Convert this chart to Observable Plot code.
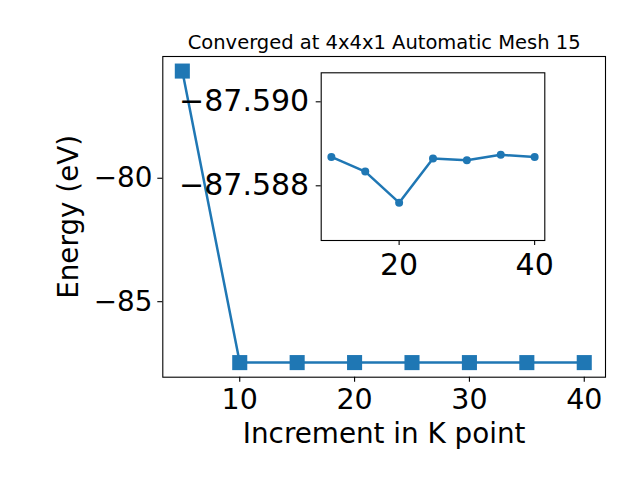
<!DOCTYPE html>
<html><head><meta charset="utf-8">
<script src="https://cdn.jsdelivr.net/npm/d3@7"></script>
<script src="https://cdn.jsdelivr.net/npm/@observablehq/plot@0.6"></script>
<style>
body{margin:0;background:white}
#wrap{position:relative;width:640px;height:480px}
#wrap svg{position:absolute;left:0;top:0}
</style>
</head><body><div id="wrap"></div>
<script>
const kpoints = [5, 10, 15, 20, 25, 30, 35, 40];
const energy = [-75.78, -87.58864, -87.58829, -87.58755, -87.58860, -87.58856, -87.58869, -87.58864];
const mainXTicks = [10, 20, 30, 40];
const mainYTicks = [-85, -80];
const insetXTicks = [20, 40];
const insetYTicks = [-87.590, -87.588];
const titleText = "Converged at 4x4x1 Automatic Mesh 15";
const xLabel = "Increment in K point";
const yLabel = "Energy (eV)";

const data = kpoints.map((k, i) => ({k, e: energy[i]}));
const insetData = data.slice(1);
const blue = "#1f77b4";
const minus = s => String(s).replace("-", "\u2212");
const FONT = "DejaVu Sans";

const main = Plot.plot({
  width: 640, height: 480,
  marginLeft: 162.3, marginRight: 35, marginTop: 56, marginBottom: 103.3,
  style: {fontFamily: FONT, background: "white", overflow: "visible", color: "black"},
  x: {domain: [3.3, 41.85]},
  y: {domain: [-88.18, -75.19]},
  marks: [
    Plot.frame({stroke: "black", strokeWidth: 1.1}),
    Plot.axisX({ticks: mainXTicks, tickSize: 5, tickPadding: 6.3, strokeWidth: 1.1, fontSize: 28.5, tickFormat: d => minus(d), label: null}),
    Plot.axisY({ticks: mainYTicks, tickSize: 5, tickPadding: 5.3, strokeWidth: 1.1, fontSize: 27.8, dy: 3, tickFormat: d => minus(d), label: null}),
    Plot.line(data, {x: "k", y: "e", stroke: blue, strokeWidth: 2.5}),
    Plot.dot(data, {x: "k", y: "e", symbol: "square", r: 8.5, fill: blue, stroke: "none"}),
    Plot.text([xLabel], {text: d => d, frameAnchor: "bottom", lineAnchor: "top", dy: 46, fontSize: 27.8, fill: "black"}),
    Plot.text([yLabel], {text: d => d, frameAnchor: "left", textAnchor: "middle", lineAnchor: "top", rotate: -90, dx: -105, fontSize: 27.8, fill: "black"}),
    Plot.text([titleText], {text: d => d, frameAnchor: "top", lineAnchor: "top", dy: -21, fontSize: 19.5, fill: "black"})
  ]
});

const inset = Plot.plot({
  width: 640, height: 480,
  marginLeft: 320.7, marginRight: 95.7, marginTop: 72.3, marginBottom: 240,
  style: {fontFamily: FONT, background: "transparent", overflow: "visible", color: "black"},
  x: {domain: [8.5, 41.5]},
  y: {domain: [-87.58665, -87.590643]},
  marks: [
    Plot.frame({fill: "white", stroke: "none"}),
    Plot.axisX({ticks: insetXTicks, tickSize: 5, tickPadding: 8, strokeWidth: 1.1, fontSize: 30, tickFormat: d => minus(d), label: null}),
    Plot.axisY({ticks: insetYTicks, tickSize: 5, tickPadding: 7, strokeWidth: 1.1, fontSize: 30, dy: 2, tickFormat: d => minus(d.toFixed(3)), label: null}),
    Plot.line(insetData, {x: "k", y: "e", stroke: blue, strokeWidth: 2.5}),
    Plot.dot(insetData, {x: "k", y: "e", r: 4, fill: blue, stroke: "none"}),
    Plot.frame({stroke: "black", strokeWidth: 1.1})
  ]
});

document.getElementById("wrap").append(main, inset);
</script>
</body></html>
